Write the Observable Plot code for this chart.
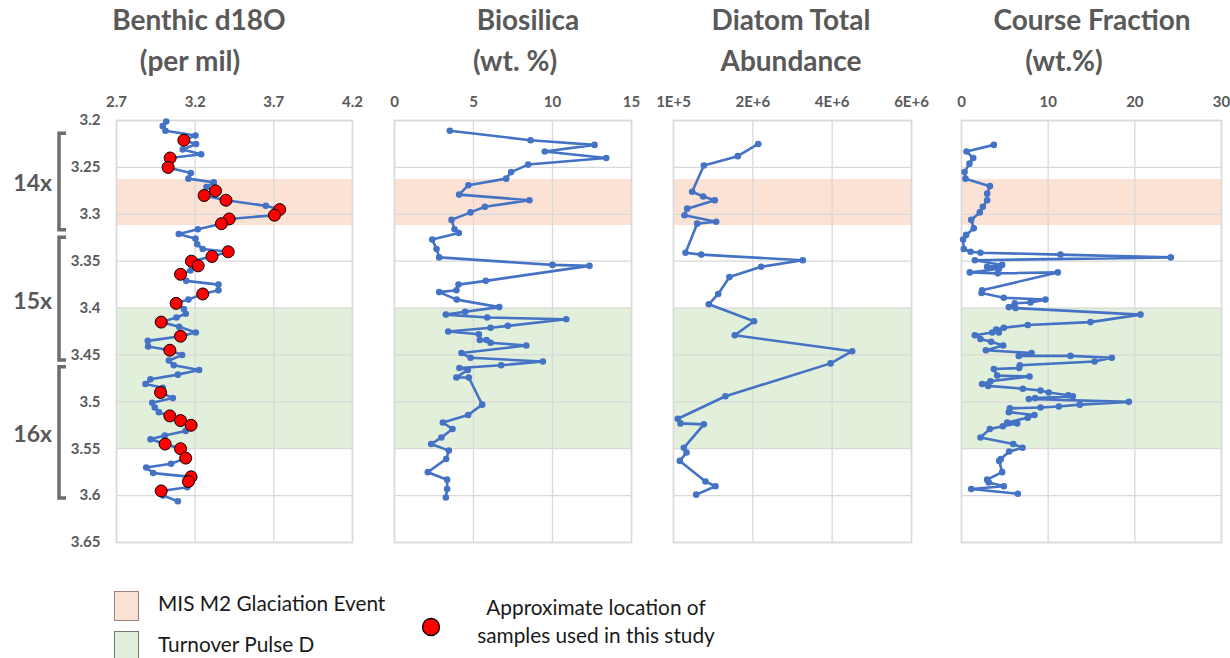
<!DOCTYPE html>
<html><head><meta charset="utf-8">
<script src="https://cdn.jsdelivr.net/npm/d3@7"></script>
<script src="https://cdn.jsdelivr.net/npm/@observablehq/plot@0.6"></script>
<style>
body{margin:0;background:#fff;}
#wrap{position:relative;width:1230px;height:658px;overflow:hidden;font-family:Lato,"Open Sans",sans-serif;}
.panel{position:absolute;top:0;}
.title{position:absolute;color:#595959;font-weight:bold;font-size:28px;white-space:nowrap;transform:translateX(-50%);line-height:1;}
.leg{position:absolute;font-size:20.8px;color:#1a1a1a;white-space:nowrap;line-height:1;}
.box{position:absolute;width:25px;height:30px;box-sizing:border-box;}
</style></head>
<body><div id="wrap"></div>
<script>
// ---------- data ----------
const depthTicks = [3.2, 3.25, 3.3, 3.35, 3.4, 3.45, 3.5, 3.55, 3.6, 3.65];
const bands = [
  {name: "MIS M2 Glaciation Event", top: 3.263, bottom: 3.312, fill: "#fbe2d5"},
  {name: "Turnover Pulse D", top: 3.40, bottom: 3.55, fill: "#e2efda"}
];
const titles = [["Benthic d18O", "(per mil)"], ["Biosilica", "(wt. %)"], ["Diatom Total", "Abundance"], ["Course Fraction", "(wt.%)"]];
const d18oTicks = [2.7, 3.2, 3.7, 4.2];
const bsiTicks = [0, 5, 10, 15];
const diatomTicks = [0, 2e6, 4e6, 6e6];
const diatomTickLabels = ["1E+5", "2E+6", "4E+6", "6E+6"];
const cfTicks = [0, 10, 20, 30];

const d18oDepth = [3.201,3.206,3.211,3.216,3.221,3.225,3.231,3.236,3.240,3.250,3.256,3.262,3.266,3.271,3.275,3.280,3.285,3.291,3.295,3.301,3.305,3.310,3.316,3.321,3.326,3.332,3.337,3.340,3.345,3.350,3.355,3.360,3.364,3.371,3.375,3.381,3.385,3.391,3.395,3.401,3.406,3.410,3.415,3.420,3.426,3.430,3.435,3.441,3.445,3.450,3.456,3.461,3.466,3.471,3.476,3.481,3.485,3.490,3.496,3.501,3.506,3.511,3.515,3.520,3.525,3.531,3.536,3.540,3.545,3.550,3.560,3.566,3.570,3.576,3.580,3.585,3.591,3.595,3.600,3.606];
const d18oValue = [3.016,2.994,3.011,3.202,3.128,3.206,3.121,3.238,3.041,3.028,3.172,3.157,3.318,3.272,3.329,3.257,3.396,3.649,3.737,3.704,3.416,3.367,3.217,3.096,3.202,3.213,3.248,3.410,3.307,3.176,3.219,3.170,3.107,3.143,3.348,3.348,3.248,3.157,3.079,3.128,3.140,3.081,2.984,3.098,3.204,3.107,2.899,2.901,3.039,3.117,3.033,3.064,3.225,3.090,2.916,2.884,2.994,2.980,3.058,2.927,2.943,2.969,3.039,3.107,3.174,3.140,3.007,2.916,3.009,3.107,3.140,3.047,2.889,2.933,3.174,3.157,3.149,2.984,2.997,3.090];
const sampleDepth = [3.221,3.240,3.250,3.275,3.280,3.285,3.295,3.301,3.305,3.310,3.340,3.345,3.350,3.355,3.364,3.385,3.395,3.415,3.430,3.445,3.490,3.515,3.520,3.525,3.545,3.550,3.560,3.580,3.585,3.595];
const sampleValue = [3.128,3.041,3.028,3.329,3.257,3.396,3.737,3.704,3.416,3.367,3.410,3.307,3.176,3.219,3.107,3.248,3.079,2.984,3.107,3.039,2.980,3.039,3.107,3.174,3.009,3.107,3.140,3.174,3.157,2.984];

const bsiDepth = [3.211,3.221,3.226,3.233,3.240,3.247,3.255,3.262,3.269,3.279,3.285,3.292,3.298,3.306,3.316,3.320,3.327,3.337,3.346,3.354,3.355,3.371,3.375,3.381,3.383,3.391,3.399,3.404,3.407,3.410,3.412,3.419,3.421,3.425,3.428,3.434,3.434,3.437,3.440,3.448,3.453,3.457,3.461,3.464,3.466,3.474,3.474,3.503,3.514,3.522,3.529,3.538,3.545,3.552,3.561,3.575,3.583,3.593,3.602];
const bsiValue = [3.50,8.61,12.66,9.51,13.40,8.46,7.38,7.07,4.68,4.09,8.54,5.72,4.81,3.61,3.80,4.07,2.39,2.66,2.83,10.0,12.34,5.78,4.05,3.92,2.83,3.94,6.63,4.47,3.25,5.87,10.87,7.17,6.08,3.40,5.34,5.40,5.82,6.08,8.34,4.24,4.81,9.39,6.75,4.11,4.64,3.92,4.70,5.55,4.66,3.06,3.67,2.97,2.32,3.44,3.27,2.11,3.33,3.33,3.25];

const diatomDepth = [3.225,3.238,3.248,3.276,3.281,3.285,3.294,3.301,3.308,3.310,3.341,3.343,3.349,3.356,3.367,3.385,3.396,3.414,3.429,3.446,3.459,3.494,3.518,3.523,3.524,3.549,3.554,3.563,3.585,3.590,3.599];
const diatomValue = [2.135e6,1.62e6,7.65e5,4.71e5,7.48e5,1.041e6,3.45e5,2.77e5,1.076e6,5.97e5,3.03e5,6.98e5,3.26e6,2.21e6,1.41e6,1.127e6,8.9e5,2.03e6,1.545e6,4.505e6,3.96e6,1.31e6,1.08e5,1.76e5,7.65e5,2.6e5,3.28e5,1.6e5,8.07e5,1.059e6,5.72e5];

const cfDepth = [3.226,3.233,3.240,3.246,3.255,3.262,3.270,3.278,3.285,3.292,3.298,3.306,3.315,3.322,3.327,3.337,3.340,3.341,3.343,3.346,3.349,3.354,3.356,3.358,3.362,3.363,3.362,3.381,3.384,3.389,3.391,3.394,3.395,3.399,3.400,3.407,3.415,3.418,3.421,3.423,3.426,3.426,3.429,3.433,3.436,3.440,3.445,3.448,3.451,3.451,3.453,3.457,3.461,3.464,3.465,3.472,3.473,3.478,3.481,3.483,3.486,3.488,3.490,3.493,3.494,3.496,3.497,3.500,3.503,3.505,3.506,3.507,3.511,3.514,3.517,3.522,3.523,3.526,3.529,3.538,3.545,3.549,3.553,3.561,3.563,3.575,3.583,3.586,3.590,3.593,3.598];
const cfValue = [3.73,0.58,1.35,0.92,0.35,0.46,3.27,2.96,2.96,2.46,2.11,1.12,1.42,0.54,0.19,0.27,1.04,2.19,11.42,24.15,1.54,4.69,2.96,4.31,0.96,4.19,11.11,2.38,2.31,4.88,9.69,7.96,6.15,5.46,6.23,20.65,14.88,7.65,4.88,4.0,4.31,3.54,1.54,2.19,3.42,4.81,2.81,8.08,6.61,12.58,17.34,15.35,6.73,6.65,3.73,4.12,7.85,3.35,2.38,3.08,7.08,9.12,10.07,12.31,12.85,8.50,7.77,19.31,13.65,11.23,9.12,5.58,5.46,8.42,7.65,5.27,6.42,4.77,3.27,2.19,5.96,7.04,5.50,4.54,4.35,4.69,2.96,3.15,4.88,1.12,6.50];

const brackets = [
  {label: "14x", top: 3.214, bottom: 3.317},
  {label: "15x", top: 3.325, bottom: 3.456},
  {label: "16x", top: 3.463, bottom: 3.603}
];

// ---------- drawing ----------
const BLUE = "#4472c4", GRID = "#d9d9d9";
const FONT = "Lato, 'Open Sans', sans-serif";
const wrap = document.getElementById("wrap");
const zip = (ys, xs) => ys.map((y, i) => ({y, x: xs[i]}));

function panel({left, width, mLeft, mRight, domain, ticks, tickFormat, rows, samples, yAxis}) {
  const marks = [
    Plot.rect(bands, {x1: () => domain[0], x2: () => domain[1], y1: "top", y2: "bottom", fill: "fill"}),
    Plot.gridY(depthTicks, {stroke: GRID, strokeOpacity: 1, strokeWidth: 1.3}),
    Plot.gridX(ticks, {stroke: GRID, strokeOpacity: 1, strokeWidth: 1.3}),
    Plot.frame({stroke: GRID, strokeWidth: 1.5}),
    Plot.line(rows, {x: "x", y: "y", stroke: BLUE, strokeWidth: 2.6}),
    Plot.dot(rows, {x: "x", y: "y", r: 3.3, fill: BLUE, stroke: null})
  ];
  if (samples) marks.push(Plot.dot(samples, {x: "x", y: "y", r: 6, fill: "#ff0000", stroke: "#000", strokeWidth: 1}));
  const p = Plot.plot({
    width, height: 560, marginTop: 120, marginBottom: 18, marginLeft: mLeft, marginRight: mRight,
    style: {fontFamily: FONT, fontSize: "15px", fontWeight: "bold", color: "#595959", background: "transparent", overflow: "visible"},
    x: {domain, ticks, axis: "top", tickSize: 0, tickPadding: 14, label: null, tickFormat},
    y: {domain: [3.2, 3.65], reverse: true, ticks: depthTicks, axis: yAxis ? "left" : null, tickSize: 0, tickPadding: 16, label: null, tickFormat: d3.format("")},
    marks
  });
  p.classList.add("panel");
  p.style.left = left + "px";
  wrap.appendChild(p);
  return p;
}

const p1 = panel({left: 0, width: 370, mLeft: 116, mRight: 18, domain: [2.7, 4.2], ticks: d18oTicks, tickFormat: d3.format(".1f"), rows: zip(d18oDepth, d18oValue), samples: zip(sampleDepth, sampleValue), yAxis: true});
panel({left: 380, width: 270, mLeft: 14, mRight: 19, domain: [0, 15], ticks: bsiTicks, tickFormat: d3.format("d"), rows: zip(bsiDepth, bsiValue)});
panel({left: 655, width: 270, mLeft: 18, mRight: 14, domain: [0, 6e6], ticks: diatomTicks, tickFormat: (d, i) => diatomTickLabels[i], rows: zip(diatomDepth, diatomValue)});
panel({left: 940, width: 290, mLeft: 21, mRight: 9, domain: [0, 30], ticks: cfTicks, tickFormat: d3.format("d"), rows: zip(cfDepth, cfValue)});

// titles
const titlePos = [[199, 190], [528, 515], [791, 791], [1092, 1064]];
titles.forEach((t, i) => {
  t.forEach((line, j) => {
    const d = document.createElement("div");
    d.className = "title";
    d.textContent = line;
    d.style.left = titlePos[i][j] + "px";
    d.style.top = (j === 0 ? 5 : 46) + "px";
    wrap.appendChild(d);
  });
});

// brackets using panel 1's depth scale
const ys = p1.scale("y");
const ov = d3.select(wrap).append("svg").attr("width", 1230).attr("height", 658)
  .style("position", "absolute").style("left", 0).style("top", 0).style("pointer-events", "none");
ov.selectAll("path").data(brackets).join("path")
  .attr("d", b => `M66,${ys.apply(b.top)}H59V${ys.apply(b.bottom)}H66`)
  .attr("fill", "none").attr("stroke", "#6d6d6d").attr("stroke-width", 3.5);
ov.selectAll("text").data(brackets).join("text")
  .attr("x", 52).attr("y", b => (ys.apply(b.top) + ys.apply(b.bottom)) / 2 + 4)
  .attr("text-anchor", "end").attr("dominant-baseline", "middle")
  .attr("font-family", FONT).attr("font-weight", "bold").attr("font-size", 23).attr("fill", "#595959")
  .text(b => b.label);

// legend
const boxStroke = ["#9c8478", "#6e7a66"];
bands.forEach((b, i) => {
  const bx = document.createElement("div");
  bx.className = "box";
  bx.style.left = "114px"; bx.style.top = (591 + i * 40) + "px";
  bx.style.background = b.fill; bx.style.border = "1.5px solid " + boxStroke[i];
  wrap.appendChild(bx);
  const t = document.createElement("div");
  t.className = "leg"; t.textContent = b.name;
  t.style.left = "158px"; t.style.top = (593 + i * 41) + "px";
  wrap.appendChild(t);
});
ov.append("circle").attr("cx", 431).attr("cy", 627).attr("r", 8.5).attr("fill", "#ff0000").attr("stroke", "#000").attr("stroke-width", 1.3);
["Approximate location of", "samples used in this study"].forEach((s, i) => {
  const t = document.createElement("div");
  t.className = "leg"; t.textContent = s;
  t.style.left = "596px"; t.style.top = (597 + i * 28) + "px"; t.style.transform = "translateX(-50%)";
  wrap.appendChild(t);
});
</script></body></html>
